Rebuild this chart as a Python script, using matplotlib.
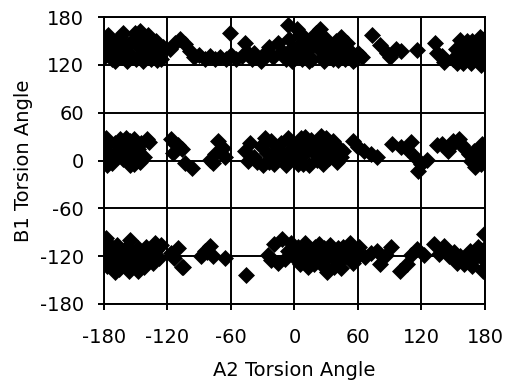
import matplotlib
matplotlib.use("Agg")
import matplotlib.pyplot as plt

# torsion angles, grouped by band
top_a2 = [-180, -180, -178, -175, -172, -171, -168, -165, -163, -160, -157, -154,
          -151, -150, -147, -144, -141, -139, -136, -134, -131, -128, -126, -124,
          -176, -162, -146, -138, -170, -158, -143, -130,
          -118, -113, -108, -103, -99, -95, -90,
          -85, -80, -75, -70, -65, -60, -55, -50, -45, -40, -61, -47, -38,
          -32, -28, -24, -20, -16, -12, -8, -5, -3, -6,
          0, 2, 4, 7, 9, 12, 15, 17, 20, 23, 24, 27, 30, 33, 36, 39, 42, 45,
          48, 51, 54, 57, 60, 64,
          5, 10, 18, 26, 32, 44, 50, 38, -2, 14, 28, 41, 55,
          73, 81, 87, 90, 96, 101, 116, 133, 135, 139, 141,
          150, 153, 156, 154, 159, 162, 165, 168, 171, 174, 175, 177, 180, 180, 176,
          158, 167, 172, 179, 163]
top_b1 = [130, 142, 152, 136, 128, 147, 140, 155, 130, 145, 136, 150,
          160, 128, 142, 153, 134, 146, 128, 140, 150, 135, 127, 143,
          158, 160, 162, 158, 125, 125, 125, 126,
          140, 148, 152, 146, 138, 130, 132,
          128, 131, 127, 130, 128, 132, 127, 131, 136, 128, 160, 147, 135,
          125, 135, 142, 130, 147, 137, 128, 152, 140, 170,
          132, 165, 145, 127, 155, 138, 148, 127, 160, 140, 165, 130, 152, 142,
          128, 150, 137, 146, 127, 140, 133, 128, 135, 130,
          157, 135, 152, 145, 135, 155, 148, 145, 125, 125, 125, 126, 125,
          157, 145, 135, 130, 140, 137, 139, 147, 135, 131, 124,
          128, 140, 151, 122, 122, 142, 130, 150, 138, 127, 155, 145, 154, 133, 120,
          135, 122, 147, 125, 150]

mid_a2 = [-180, -180, -178, -175, -172, -170, -167, -165, -162, -160, -157, -155,
          -152, -152, -148, -145, -139, -142, -137, -155,
          -177, -168, -159, -150, -146,
          -117, -113, -106, -115, -103, -97, -110,
          -72, -68, -75, -80, -77, -66,
          -47, -42, -38, -35, -32, -30, -26, -22, -19, -16, -13, -10, -8, -5,
          -2, 0, 3, 4, 6, 9, 12, 14, 16, 18, 21, 23, 25, 27, 29, 31, 33, 35,
          38, 40, 44,
          -44, -28, -18, -6, 2, 8, 10, 20, 26, 30, 36, 42, -24, 46,
          55, 60, 66, 72, 78,
          92, 101, 110, 106, 114, 120, 117, 125, 135,
          139, 145, 150, 155, 161, 167, 171, 174, 177, 180, 180, 176, 165,
          170, 158, 148]
mid_b1 = [5, 18, 28, 10, -3, 22, 12, 27, 2, 18, 8, 25,
          -4, 27, 15, 22, 27, 5, 23, -6,
          -5, 4, 28, 5, -2,
          27, 21, 14, 10, -3, -9, 20,
          24, 16, 8, 1, -3, 5,
          12, 22, 4, -2, 18, -6, 10, 24, -4, 15, 22, 3, -6, 12,
          22, 2, -4, 16, 28, 8, 20, -5, 26, 10, 1, 18, 31, -4, 12, 22, 3, 16,
          10, -2, 5,
          0, 28, 8, 28, 10, -4, 30, 15, 5, 28, 24, 16, -2, 12,
          25, 17, 12, 8, 4,
          21, 17, 23, 14, 4, -4, -13, 1, 19,
          21, 12, 24, 27, 15, 0, -8, 8, 21, 17, 5, -4, 8,
          12, 20, 18]

low_a2 = [-178, -180, -180, -177, -174, -171, -168, -166, -163, -160, -158, -156,
          -153, -150, -148, -145, -142, -140, -137, -134, -131, -128, -126,
          -175, -165, -155, -148, -138, -132, -170, -160,
          -117, -114, -106, -110, -105,
          -85, -88, -80, -77, -66, -83, -46,
          -25, -19, -12, -16, -6, -22, -9, -3,
          0, 3, 5, 8, 11, 13, 16, 19, 22, 25, 28, 31, 34, 37, 40, 43, 46, 49,
          52, 55, 58, 61, 31,
          2, 10, 18, 26, 35, 44, 52, 57, 6, 15, 23, 41,
          67, 72, 78, 81, 86, 91, 100, 106, 110, 116, 122,
          132, 137, 141, 146, 151, 154, 160, 163, 166, 170, 173, 176, 179, 180,
          178, 180, 156, 168, 175, 144]
low_b1 = [-97, -110, -122, -132, -115, -125, -106, -136, -118, -128, -108, -139,
          -120, -130, -110, -122, -134, -108, -117, -128, -112, -122, -106,
          -105, -125, -100, -138, -125, -104, -140, -112,
          -116, -122, -133, -110, -134,
          -114, -120, -107, -120, -122, -115, -143,
          -118, -105, -99, -128, -114, -125, -124, -104,
          -118, -108, -130, -121, -112, -134, -124, -108, -116, -130, -110, -122,
          -106, -134, -116, -126, -108, -120, -112, -128, -115, -108, -140,
          -125, -104, -130, -120, -118, -135, -104, -124, -112, -116, -105, -110,
          -121, -116, -113, -130, -118, -109, -138, -130, -119, -111, -119,
          -105, -117, -107, -120, -115, -128, -130, -118, -113, -124, -109, -121,
          -92, -134, -139, -110, -120, -132, -112, -112]

ticks = [-180, -120, -60, 0, 60, 120, 180]

plt.rcParams['font.family'] = ['DejaVu Sans']
plt.rcParams['axes.unicode_minus'] = False

fig = plt.figure(figsize=(5.06, 3.88), dpi=100)
ax = fig.add_axes([0.2055, 0.2165, 0.753, 0.7395])

a2 = top_a2 + mid_a2 + low_a2
b1 = top_b1 + mid_b1 + low_b1
ax.scatter(a2, b1, marker='D', s=75, color='black', linewidths=0, zorder=3)

ax.set_xlim(-180, 180)
ax.set_ylim(-180, 180)
ax.set_xticks(ticks)
ax.set_yticks(ticks)
ax.grid(True, color='black', linewidth=1.4)
ax.set_axisbelow(True)
for sp in ax.spines.values():
    sp.set_linewidth(1.4)
ax.tick_params(direction='out', length=4.5, width=1.4, labelsize=14)
ax.tick_params(axis='x', pad=13)
ax.tick_params(axis='y', pad=10)
ax.set_xlabel("A2 Torsion Angle", fontsize=14, labelpad=10)
ax.set_ylabel("B1 Torsion Angle", fontsize=14, labelpad=5)

fig.savefig("out.png", dpi=100)
